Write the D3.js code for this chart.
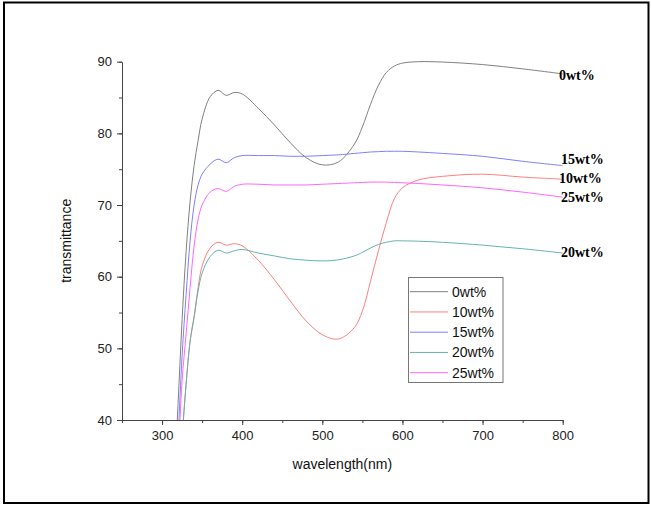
<html>
<head>
  <style>
    body { margin: 0; background: #fff; }
    .line { fill: none; stroke-width: 1; }
    .axis path, .axis line { stroke: #444; }
    .axis text { font-family: Arial, "Liberation Sans", sans-serif; font-size: 13px; fill: #222; }
  </style>
  <script src="https://d3js.org/d3.v7.min.js"></script>
</head>
<body>
<div id="chart"></div>
<script>
  // wavelength grid (nm) shared by all curves
  var wavelength = [315, 320, 325, 330, 335, 340, 345, 350, 360, 370, 380, 390, 400, 420, 440, 460,
                    480, 500, 520, 540, 550, 560, 570, 580, 590, 600, 620, 650, 700, 750, 800];

  var t0  = [31, 42.3, 54, 63.5, 70.5, 75.5, 79, 82, 85.1, 86, 85.3, 85.7, 85.5, 83.5, 81.2, 78.7,
             76.6, 75.6, 76.0, 78.5, 80.9, 84, 86.7, 88.5, 89.4, 89.8, 90, 89.95, 89.6, 89, 88.3];
  var t10 = [20, 29, 37.5, 45, 51, 54.5, 58.5, 61.5, 64, 64.8, 64.4, 64.6, 64.3, 62.3, 59.6, 56.6,
             53.8, 51.9, 51.3, 52.9, 55.2, 59.3, 63.6, 67.6, 70.9, 72.4, 73.5, 74, 74.3, 73.9, 73.6];
  var t15 = [27, 37.5, 49, 57.5, 65, 70, 72.8, 74.3, 75.7, 76.4, 75.9, 76.6, 76.9, 76.9, 76.9, 76.8,
             76.8, 76.9, 77, 77.2, 77.3, 77.4, 77.45, 77.5, 77.5, 77.5, 77.4, 77.2, 76.8, 76.1, 75.5];
  var t20 = [20, 29, 37.5, 45, 51, 54.3, 58, 60.5, 62.8, 63.7, 63.3, 63.6, 63.8, 63.3, 62.9, 62.5,
             62.3, 62.2, 62.35, 62.9, 63.4, 64, 64.5, 64.8, 65, 65, 64.95, 64.8, 64.4, 63.9, 63.3];
  var t25 = [24, 34.5, 45.5, 52, 58.5, 64.3, 68, 70, 71.8, 72.3, 71.9, 72.6, 72.9, 72.9, 72.8, 72.8,
             72.8, 72.9, 73, 73.1, 73.15, 73.2, 73.2, 73.2, 73.15, 73.1, 73, 72.8, 72.4, 71.8, 71.1];

  var names  = ["0wt%", "10wt%", "15wt%", "20wt%", "25wt%"];
  var colors = ["#808080", "#ff7f7f", "#7f7fff", "#66b3ad", "#ff66ff"];
  var values = [t0, t10, t15, t20, t25];

  var xTicks = [300, 400, 500, 600, 700, 800];
  var yTicks = [40, 50, 60, 70, 80, 90];

  var W = 651, H = 505;
  var plotL = 122, plotR = 562.7, plotT = 61.7, plotB = 420;

  var svg = d3.select("#chart").append("svg")
      .attr("width", W)
      .attr("height", H);

  // outer frame
  svg.append("rect")
      .attr("x", 4).attr("y", 2.5)
      .attr("width", 644.5).attr("height", 500.5)
      .attr("fill", "none")
      .attr("stroke", "#000")
      .attr("stroke-width", 2);

  var x = d3.scaleLinear().domain([250, 800]).range([plotL, plotR]);
  var y = d3.scaleLinear().domain([40, 90]).range([plotB, plotT]);

  svg.append("clipPath")
      .attr("id", "plotArea")
      .append("rect")
      .attr("x", plotL).attr("y", plotT - 10)
      .attr("width", plotR - plotL + 2).attr("height", plotB - plotT + 10);

  // minor ticks
  svg.append("g")
      .attr("class", "axis")
      .attr("transform", "translate(0," + plotB + ")")
      .call(d3.axisBottom(x).tickValues(d3.range(250, 801, 50)).tickSize(3).tickFormat(""))
      .select(".domain").remove();
  svg.append("g")
      .attr("class", "axis")
      .attr("transform", "translate(" + plotL + ",0)")
      .call(d3.axisLeft(y).tickValues(d3.range(40, 91, 5)).tickSize(3).tickFormat(""))
      .select(".domain").remove();

  // major ticks
  svg.append("g")
      .attr("class", "axis")
      .attr("transform", "translate(0," + plotB + ")")
      .call(d3.axisBottom(x).tickValues(xTicks).tickSize(5).tickSizeOuter(0).tickPadding(6));
  svg.append("g")
      .attr("class", "axis")
      .attr("transform", "translate(" + plotL + ",0)")
      .call(d3.axisLeft(y).tickValues(yTicks).tickSize(5).tickSizeOuter(0).tickPadding(5));

  var line = d3.line()
      .x(function(d) { return x(d[0]); })
      .y(function(d) { return y(d[1]); })
      .curve(d3.curveCatmullRom.alpha(0.5));

  var plot = svg.append("g").attr("clip-path", "url(#plotArea)");
  values.forEach(function(v, i) {
    plot.append("path")
        .datum(wavelength.map(function(w, j) { return [w, v[j]]; }))
        .attr("class", "line")
        .attr("stroke", colors[i])
        .attr("d", line);
  });

  // end labels
  var labelX = [559, 559, 561, 561, 561];
  var labelY = [75, 177.7, 159.3, 252.3, 196.7];
  names.forEach(function(n, i) {
    svg.append("text")
        .attr("x", labelX[i])
        .attr("y", labelY[i])
        .attr("dy", "0.35em")
        .style("font-family", "'Liberation Serif', 'Times New Roman', serif")
        .style("font-weight", "bold")
        .style("font-size", "14px")
        .text(n);
  });

  // legend
  var legend = svg.append("g");
  legend.append("rect")
      .attr("x", 408.5).attr("y", 277.5)
      .attr("width", 94.5).attr("height", 105)
      .attr("fill", "#fff")
      .attr("stroke", "#777");
  names.forEach(function(n, i) {
    var ly = 291.7 + i * 20.25;
    legend.append("line")
        .attr("x1", 410).attr("x2", 448)
        .attr("y1", ly).attr("y2", ly)
        .attr("stroke", colors[i]);
    legend.append("text")
        .attr("x", 452)
        .attr("y", ly)
        .attr("dy", "0.36em")
        .style("font-family", "Arial, 'Liberation Sans', sans-serif")
        .style("font-size", "14px")
        .style("fill", "#111")
        .text(n);
  });

  // axis titles
  svg.append("text")
      .attr("x", (plotL + plotR) / 2)
      .attr("y", 464)
      .attr("dy", "0.35em")
      .attr("text-anchor", "middle")
      .style("font-family", "Arial, 'Liberation Sans', sans-serif")
      .style("font-size", "14px")
      .style("fill", "#111")
      .text("wavelength(nm)");

  svg.append("text")
      .attr("transform", "translate(66," + ((plotT + plotB) / 2) + ") rotate(-90)")
      .attr("dy", "0.35em")
      .attr("text-anchor", "middle")
      .style("font-family", "Arial, 'Liberation Sans', sans-serif")
      .style("font-size", "14px")
      .style("fill", "#111")
      .text("transmittance");
</script>
</body>
</html>
